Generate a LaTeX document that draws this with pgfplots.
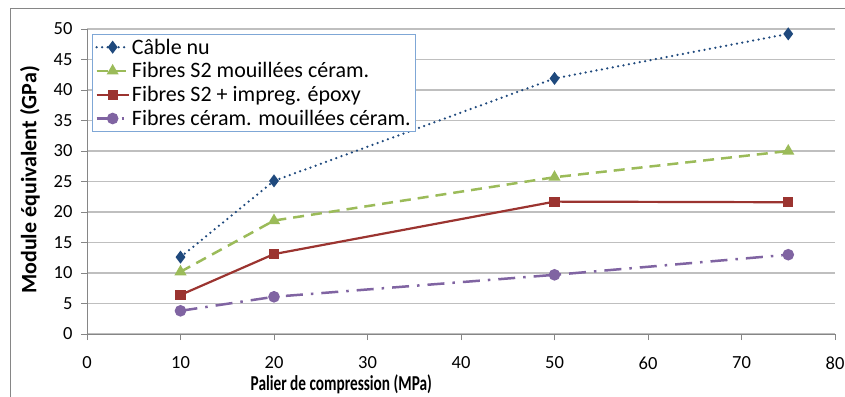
\documentclass[border=0pt]{standalone}
\usepackage{fontspec}
\setmainfont{Carlito}
\usepackage{pgfplots}
\pgfplotsset{compat=1.18}
\definecolor{cblue}{RGB}{31,73,125}
\definecolor{cgreen}{RGB}{155,187,89}
\definecolor{cred}{RGB}{155,52,48}
\definecolor{cpurple}{RGB}{128,100,162}
\definecolor{gridc}{RGB}{191,191,191}
\definecolor{axisc}{RGB}{134,134,134}
\definecolor{legc}{RGB}{127,167,214}
\begin{document}
\begin{tikzpicture}[x=1pt,y=1pt]
\useasboundingbox (0,0) rectangle (845,396);
\draw[axisc,line width=1pt] (10,-10) -- (10,387) -- (860,387);
\begin{axis}[
  at={(87pt,62pt)}, anchor=south west,
  scale only axis, width=748pt, height=305pt,
  xmin=0, xmax=80, ymin=0, ymax=50,
  xtick={0,10,...,80}, ytick={0,5,...,50},
  axis lines=left, axis line style={-, draw=axisc, line width=1pt},
  tick align=outside, major tick length=6pt,
  tick style={draw=axisc, line width=1pt},
  ymajorgrids, grid style={gridc, line width=1.2pt},
  /pgf/number format/assume math mode=true,
  ticklabel style={font=\fontsize{18.5}{20}\selectfont},
  xticklabel style={yshift=-13pt},
  yticklabel style={xshift=-5pt},
  xlabel={\scalebox{0.9}[1.25]{\textbf{Palier de compression (MPa)}}},
  ylabel={\textbf{Module équivalent (GPa)}},
  xlabel style={at={(axis description cs:0.34,-0.164)}, anchor=center, font=\fontsize{17}{20}\selectfont},
  ylabel style={at={(axis description cs:-0.0762,0.505)}, anchor=center, rotate=0, font=\fontsize{22}{24}\selectfont},
  legend style={at={(0.0067,0.984)}, anchor=north west, draw=legc, line width=0.8pt, fill=white,
    font=\fontsize{22}{24}\selectfont, inner xsep=3pt, inner ysep=2.5pt, row sep=3pt, cells={anchor=west}},
  legend image code/.code={\draw[#1] (0pt,0pt) -- (32pt,0pt); \draw[#1, solid] plot coordinates {(16pt,0pt)};},
  legend cell align=left,
  clip=false,
]
\addplot[cblue, line width=2.5pt, line cap=round, dash pattern=on 0pt off 5.5pt, mark=diamond*, mark size=4.5pt, mark options={solid}] coordinates {(10,12.6) (20,25.1) (50,41.9) (75,49.2)};
\addlegendentry{Câble nu}
\addplot[cgreen, line width=2.5pt, dash pattern=on 11pt off 7pt, mark=triangle*, mark size=4.5pt, mark options={solid}] coordinates {(10,10.2) (20,18.6) (50,25.7) (75,30.0)};
\addlegendentry{Fibres S2 mouillées céram.}
\addplot[cred, line width=2.2pt, mark=square*, mark size=4pt] coordinates {(10,6.4) (20,13.1) (50,21.7) (75,21.6)};
\addlegendentry{Fibres S2 + impreg. époxy}
\addplot[cpurple, line width=2.5pt, dash pattern=on 17pt off 8pt on 2.5pt off 8pt, mark=*, mark size=4.5pt, mark options={solid}] coordinates {(10,3.8) (20,6.1) (50,9.7) (75,13.0)};
\addlegendentry{Fibres céram. mouillées céram.}
\end{axis}
\end{tikzpicture}
\end{document}
